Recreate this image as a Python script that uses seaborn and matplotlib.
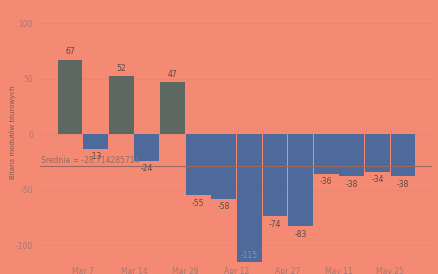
import matplotlib
matplotlib.use("Agg")
import matplotlib.pyplot as plt
import seaborn as sns
import pandas as pd
import numpy as np

values = [67, -13, 52, -24, 47, -55, -58, -115, -74, -83, -36, -38, -34, -38]
tick_labels = ["Mar 7", "Mar 14", "Mar 28", "Apr 12", "Apr 27", "May 11", "May 25"]
tick_pos = [0.5, 2.5, 4.5, 6.5, 8.5, 10.5, 12.5]
y_label = "Bilans modułów biurowych"

bg = "#F48A73"
pos_col = "#5E6863"
neg_col = "#4D6A9A"

df = pd.DataFrame({"i": [str(k) for k in range(len(values))], "v": values})
df["sign"] = np.where(df["v"] >= 0, "pos", "neg")

sns.set_style("white")
plt.rcParams["font.family"] = ["DejaVu Sans"]
fig = plt.figure(figsize=(4.39, 2.74), dpi=100)
fig.patch.set_facecolor(bg)
ax = fig.add_axes([40/439, 0, (432-40)/439, 1])
ax.set_facecolor(bg)

sns.barplot(data=df, x="i", y="v", hue="sign", palette={"pos": pos_col, "neg": neg_col},
            dodge=False, width=0.97, legend=False, ax=ax, saturation=1,
            edgecolor="none", linewidth=0)

fs = 5.5
for k, v in enumerate(values):
    if v >= 0:
        ax.text(k, v + 3, str(v), ha="center", va="bottom", fontsize=fs, color="#5a4a44")
    elif v == -115:
        ax.text(k, v + 2, str(v), ha="center", va="bottom", fontsize=fs, color="#8a93b0")
    else:
        ax.text(k, v - 3, str(v), ha="center", va="top", fontsize=fs, color="#5a4a44")

mean = np.mean(values)
ax.axhline(mean, color="#9a6a60", lw=0.8)
ax.text(-1.13, mean + 1, f"Średnia = {mean:.9f}", fontsize=fs, color="#9a6a60", ha="left", va="bottom")

for yv in [100, 50, 0, -50, -100]:
    ax.axhline(yv, color="#e88570", lw=0.6, zorder=0)

ax.set_ylim(-126, 120.8)
ax.set_xlim(-1.17, 14.13)
ax.set_yticks([100, 50, 0, -50, -100])
ax.set_yticklabels(["100", "50", "0", "-50", "-100"])
ax.set_xticks(tick_pos)
ax.set_xticklabels(tick_labels)
ax.tick_params(axis="both", length=0, labelsize=5.5, colors="#a87a70")
ax.tick_params(axis="x", pad=-5)
ax.tick_params(axis="y", pad=5)
ax.set_xlabel("")
ax.set_ylabel("")
fig.text(13/439, 1 - 132/274, y_label, rotation=90, fontsize=5, color="#7a5a52", ha="center", va="center")
for s in ax.spines.values():
    s.set_visible(False)

fig.savefig("out.png", dpi=100, facecolor=bg)
